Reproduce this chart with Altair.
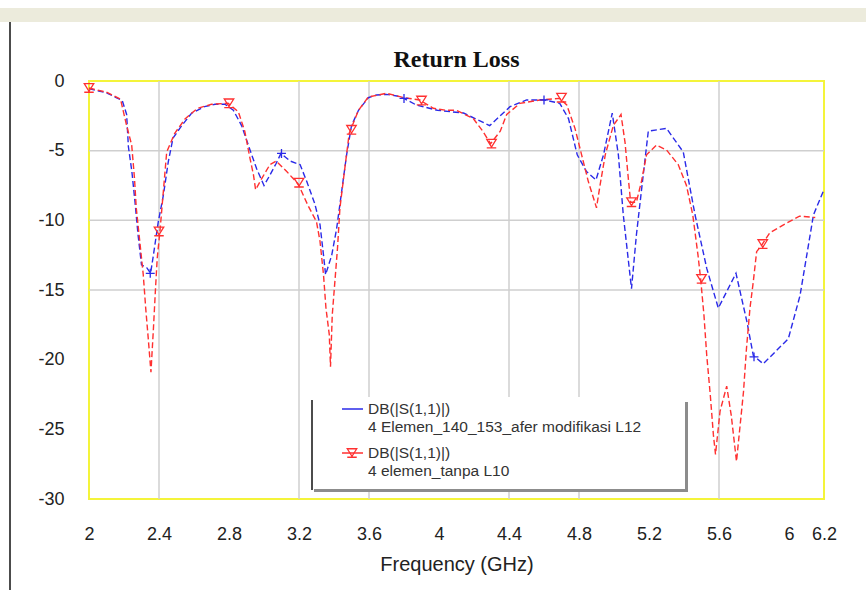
import altair as alt
import pandas as pd

# ---- data ----
blue_f = [2.00, 2.10, 2.19, 2.215, 2.225, 2.245, 2.263, 2.28, 2.30, 2.33, 2.352, 2.368, 2.396, 2.425, 2.453,
          2.48, 2.53, 2.587, 2.66, 2.72, 2.777, 2.825, 2.872, 2.92, 2.958, 3.0, 3.034, 3.07, 3.097, 3.15,
          3.206, 3.244, 3.29, 3.32, 3.34, 3.352, 3.387, 3.415, 3.444, 3.472, 3.50, 3.54, 3.596, 3.644, 3.70,
          3.76, 3.80, 3.87, 3.99, 4.14, 4.29, 4.406, 4.5, 4.6, 4.69, 4.74, 4.79, 4.843, 4.897, 4.94, 4.99,
          5.025, 5.053, 5.10, 5.128, 5.167, 5.196, 5.30, 5.396, 5.463, 5.53, 5.596, 5.697, 5.76, 5.796,
          5.853, 5.996, 6.063, 6.14, 6.20]
blue_db = [-0.55, -0.85, -1.4, -2.4, -4.7, -6.5, -8.7, -11.0, -13.2, -13.4, -13.8, -12.5, -10.1, -8.2, -5.8,
           -4.1, -3.2, -2.3, -1.84, -1.67, -1.67, -2.1, -3.2, -4.95, -6.3, -7.5, -6.75, -5.9, -5.2, -5.75,
           -6.0, -7.2, -8.8, -10.3, -12.5, -13.9, -12.5, -10.6, -7.9, -5.3, -3.2, -2.1, -1.2, -1.0, -0.96,
           -1.08, -1.25, -1.72, -2.1, -2.3, -3.2, -1.84, -1.36, -1.36, -1.6, -2.7, -5.3, -6.5, -7.1, -5.3, -2.3,
           -5.3, -9.6, -14.9, -11.05, -6.75, -3.6, -3.4, -5.1, -9.6, -13.45, -16.3, -13.8, -17.3, -19.7,
           -20.3, -18.5, -15.4, -9.6, -7.8]

red_f = [2.00, 2.10, 2.18, 2.215, 2.244, 2.26, 2.27, 2.29, 2.31, 2.324, 2.34, 2.354, 2.368, 2.38, 2.39,
         2.406, 2.425, 2.444, 2.49, 2.55, 2.62, 2.70, 2.795, 2.853, 2.89, 2.92, 2.94, 2.952, 2.987, 3.034,
         3.07, 3.13, 3.196, 3.25, 3.30, 3.32, 3.34, 3.354, 3.373, 3.38, 3.39, 3.405, 3.42, 3.434, 3.457,
         3.487, 3.54, 3.596, 3.70, 3.80, 3.89, 3.967, 4.04, 4.10, 4.196, 4.25, 4.295, 4.35, 4.387, 4.463,
         4.577, 4.69, 4.73, 4.777, 4.815, 4.853, 4.90, 4.92, 4.95, 4.996, 5.04, 5.063, 5.08, 5.095, 5.128,
         5.157, 5.186, 5.243, 5.30, 5.367, 5.414, 5.45, 5.48, 5.495, 5.514, 5.53, 5.55, 5.568, 5.58, 5.606,
         5.644, 5.67, 5.70, 5.74, 5.757, 5.777, 5.796, 5.815, 5.843, 5.89, 5.986, 6.06, 6.15]
red_db = [-0.5, -0.8, -1.3, -3.2, -4.6, -7.0, -9.1, -11.5, -13.9, -16.3, -18.7, -20.9, -17.8, -14.9, -12.7,
          -10.7, -7.9, -5.1, -3.75, -2.7, -1.96, -1.67, -1.6, -2.2, -3.6, -5.55, -6.75, -7.8, -7.0, -6.0,
          -5.75, -6.5, -7.4, -8.9, -10.1, -11.5, -13.9, -16.3, -18.2, -20.5, -16.8, -14.4, -12.0, -9.1, -6.75,
          -3.75, -2.1, -1.15, -0.88, -1.2, -1.36, -1.96, -2.1, -2.1, -2.7, -3.6, -4.5, -3.6, -2.4, -1.6,
          -1.36, -1.25, -1.72, -3.4, -5.3, -7.2, -9.1, -7.5, -5.3, -3.2, -2.4, -4.4, -6.75, -8.7, -8.7,
          -7.2, -5.3, -4.6, -4.95, -6.0, -7.5, -9.6, -12.5, -14.2, -16.8, -19.7, -22.5, -25.4, -26.8, -23.7,
          -21.9, -24.0, -27.3, -22.3, -19.2, -16.3, -14.4, -12.25, -11.8, -10.9, -10.2, -9.7, -9.8]

red_marker_f = [2.0, 2.4, 2.8, 3.2, 3.5, 3.9, 4.3, 4.7, 5.1, 5.5, 5.85]
red_marker_db = [-0.5, -10.8, -1.6, -7.3, -3.5, -1.4, -4.5, -1.2, -8.7, -14.2, -11.7]
blue_marker_f = [2.35, 3.1, 3.8, 4.6, 5.8]
blue_marker_db = [-13.8, -5.2, -1.25, -1.36, -19.8]

x_ticks = [2, 2.4, 2.8, 3.2, 3.6, 4, 4.4, 4.8, 5.2, 5.6, 6, 6.2]
y_ticks = [0, -5, -10, -15, -20, -25, -30]
x_grid = [2.4, 3.2, 3.6, 4.4, 4.8, 5.6]
y_grid = [-5, -10, -15]

legend_lines = ["DB(|S(1,1)|)", "4 Elemen_140_153_afer modifikasi L12",
                "DB(|S(1,1)|)", "4 elemen_tanpa L10"]
title_text = "Return Loss"
x_title = "Frequency (GHz)"

BLUE = "#2a2ae8"
RED = "#ff3030"
W, H = 735, 418

xs = alt.Scale(domain=[2, 6.2], nice=False, zero=False)
ys = alt.Scale(domain=[-30, 0], nice=False, zero=False)

one = pd.DataFrame({"a": [0]})

# page decorations
band = alt.Chart(one).mark_rect(color="#ecebdc").encode(
    x=alt.value(-89), x2=alt.value(777), y=alt.value(-73), y2=alt.value(-59))
vline = alt.Chart(one).mark_rule(color="#111", strokeWidth=1.5).encode(
    x=alt.value(-79), y=alt.value(-59), y2=alt.value(509))

# grid
vgrid = alt.Chart(pd.DataFrame({"g": x_grid})).mark_rule(color="#cfcfcf", strokeWidth=1.5).encode(
    x=alt.X("g:Q", scale=xs))
hgrid = alt.Chart(pd.DataFrame({"g": y_grid})).mark_rule(color="#cfcfcf", strokeWidth=1.5).encode(
    y=alt.Y("g:Q", scale=ys))

# axes (carried by a base layer)
base_df = pd.DataFrame({"f": blue_f, "db": blue_db})
axes = alt.Chart(base_df).mark_line(opacity=0).encode(
    x=alt.X("f:Q", scale=xs,
            axis=alt.Axis(values=x_ticks, format="~g", grid=False, ticks=False, domain=False,
                          labelFont="Liberation Sans", labelFontSize=18, labelColor="#222",
                          labelPadding=26, labelOverlap=False, labelFlush=False,
                          title=x_title, titleFont="Liberation Sans", titleFontSize=20,
                          titleFontWeight="normal", titleColor="#222", titlePadding=11)),
    y=alt.Y("db:Q", scale=ys,
            axis=alt.Axis(values=y_ticks, grid=False, ticks=False, domain=False,
                          labelExpr="datum.value == 0 ? '0' : '-' + abs(datum.value)",
                          labelFont="Liberation Sans", labelFontSize=18, labelColor="#222",
                          labelPadding=25, labelOverlap=False, labelFlush=False, title=None)),
)

blue_line = alt.Chart(pd.DataFrame({"f": blue_f, "db": blue_db})).mark_line(
    color=BLUE, strokeWidth=1.4, strokeDash=[6, 3]).encode(
    x=alt.X("f:Q", scale=xs), y=alt.Y("db:Q", scale=ys))
red_line = alt.Chart(pd.DataFrame({"f": red_f, "db": red_db})).mark_line(
    color=RED, strokeWidth=1.4, strokeDash=[6, 3]).encode(
    x=alt.X("f:Q", scale=xs), y=alt.Y("db:Q", scale=ys))

RED_SHAPE = "M-1,-0.9L1,-0.9L0,0.7Z M-1,0.9L1,0.9 M0,0.7L0,0.9"
PLUS_SHAPE = "M-1,0L1,0M0,-1L0,1"
red_marks = alt.Chart(pd.DataFrame({"f": red_marker_f, "db": red_marker_db})).mark_point(
    shape=RED_SHAPE, size=90, color=RED, filled=False, strokeWidth=1.3, opacity=1).encode(
    x=alt.X("f:Q", scale=xs), y=alt.Y("db:Q", scale=ys))
blue_marks = alt.Chart(pd.DataFrame({"f": blue_marker_f, "db": blue_marker_db})).mark_point(
    shape=PLUS_SHAPE, size=80, color=BLUE, filled=False, strokeWidth=1.3, opacity=1).encode(
    x=alt.X("f:Q", scale=xs), y=alt.Y("db:Q", scale=ys))

# legend box
leg_bg = alt.Chart(one).mark_rect(color="white").encode(
    x=alt.value(221), x2=alt.value(599), y=alt.value(316), y2=alt.value(411))
leg_left = alt.Chart(one).mark_rule(color="#111", strokeWidth=1.5).encode(
    x=alt.value(223), y=alt.value(319), y2=alt.value(409))
leg_right = alt.Chart(one).mark_rect(color="#8c8c8c").encode(
    x=alt.value(596), x2=alt.value(599), y=alt.value(321), y2=alt.value(411))
leg_bottom = alt.Chart(one).mark_rect(color="#8c8c8c").encode(
    x=alt.value(225), x2=alt.value(599), y=alt.value(408), y2=alt.value(411))
leg_blue = alt.Chart(one).mark_rule(color=BLUE, strokeWidth=1.5).encode(
    x=alt.value(253), x2=alt.value(274), y=alt.value(328))
leg_red = alt.Chart(one).mark_rule(color=RED, strokeWidth=1.5).encode(
    x=alt.value(253), x2=alt.value(274), y=alt.value(372))
leg_red_mk = alt.Chart(one).mark_point(shape=RED_SHAPE, size=90, color=RED, filled=False,
                                       strokeWidth=1.3, opacity=1).encode(
    x=alt.value(263), y=alt.value(372))
leg_texts = []
for txt, yy in zip(legend_lines, [328, 346, 372, 390]):
    leg_texts.append(alt.Chart(one).mark_text(
        align="left", baseline="middle", font="Liberation Sans", fontSize=15.5, color="#333").encode(
        x=alt.value(279), y=alt.value(yy), text=alt.value(txt)))

title = alt.Chart(one).mark_text(
    align="center", baseline="middle", font="Liberation Serif", fontSize=24, fontWeight="bold",
    color="#111").encode(x=alt.value(W / 2), y=alt.value(-21), text=alt.value(title_text))

chart = alt.layer(
    band, vline, vgrid, hgrid, axes, leg_bg, leg_left, leg_right, leg_bottom,
    blue_line, red_line, blue_marks, red_marks, leg_blue, leg_red, leg_red_mk, *leg_texts, title
).properties(
    width=W, height=H,
    padding={"left": 89, "top": 81, "right": 42, "bottom": 91},
    autosize=alt.AutoSizeParams(type="none"),
    background="white",
).configure_view(stroke="#f4f43a", strokeWidth=2)

chart.save("out.html", embed_options={"renderer": "svg", "actions": False})
